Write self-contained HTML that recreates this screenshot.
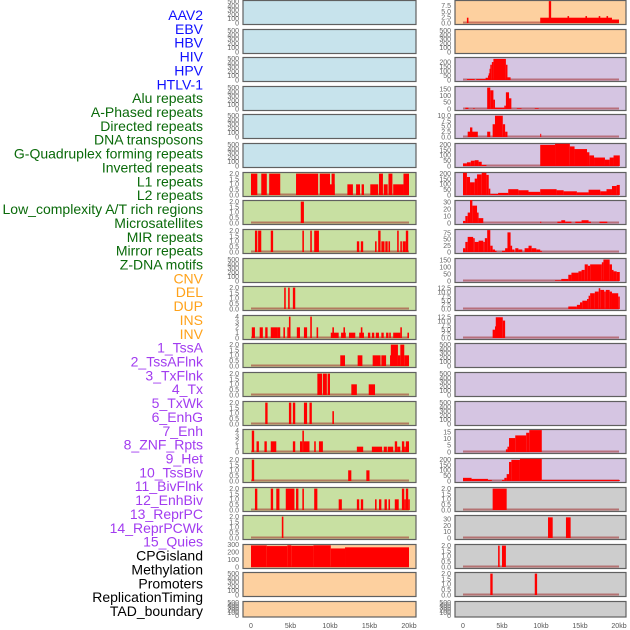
<!DOCTYPE html>
<html><head><meta charset="utf-8">
<style>
html,body{margin:0;padding:0;background:#fff;}
svg{display:block;font-family:"Liberation Sans",sans-serif;}
</style></head>
<body>
<svg id="chart" width="630" height="630" viewBox="0 0 630 630" xmlns="http://www.w3.org/2000/svg">
<g id="labels"></g>
<g id="panels"></g>
<g id="xaxes"></g>
</svg>
<script>
// ---- labels ----
const labelNames = ["AAV2","EBV","HBV","HIV","HPV","HTLV-1","Alu repeats","A-Phased repeats","Directed repeats","DNA transposons","G-Quadruplex forming repeats","Inverted repeats","L1 repeats","L2 repeats","Low_complexity A/T rich regions","Microsatellites","MIR repeats","Mirror repeats","Z-DNA motifs","CNV","DEL","DUP","INS","INV","1_TssA","2_TssAFlnk","3_TxFlnk","4_Tx","5_TxWk","6_EnhG","7_Enh","8_ZNF_Rpts","9_Het","10_TssBiv","11_BivFlnk","12_EnhBiv","13_ReprPC","14_ReprPCWk","15_Quies","CPGisland","Methylation","Promoters","ReplicationTiming","TAD_boundary"];
const labelGroups = [6,13,5,15,5];
const groupColors = ["#1010ff","#0a6a0a","#ffa21a","#a23cf0","#000000"];

// ---- x axis ----
const xTicksKb = [0,5,10,15,20];
const xTickLabels = ["0","5kb","10kb","15kb","20kb"];

// ---- tick sets ----
const tEmpty = ["0","100","200","300","400","500"], tEmptyV=[0,100,200,300,400,500];
const t2 = ["0.0","0.5","1.0","1.5","2.0"], t2V=[0,0.5,1,1.5,2];
const t4 = ["0","1","2","3","4"], t4V=[0,1,2,3,4];

// ---- left column data: [startKb, endKb, value] ----
const L6 = [[0,0.8,2],[1.3,2.0,2],[2.3,3.7,2],[5.7,8.5,2],[8.7,10.0,2],[10.0,10.6,1],[10.2,10.6,2],[12.2,12.9,1],[13.3,13.8,1],[14.0,14.3,1],[15.1,16.1,1],[16.2,16.7,2],[16.8,17.3,1],[17.4,17.9,2],[18.0,19.3,1],[19.3,20,2]];
const L7 = [[6.3,6.7,2]];
const L8 = [[0.5,0.8,2],[0.9,1.3,2],[2.5,2.8,2],[6.5,6.7,2],[7.5,7.7,2],[8.0,8.6,2],[13.4,13.7,1],[13.9,14.2,1],[15.7,15.9,1],[16.1,16.4,2],[16.5,16.9,1],[17.0,17.3,1],[17.4,17.6,1],[18.5,18.7,2],[18.9,19.1,1],[19.2,19.6,1],[19.6,19.9,2]];
const L10 = [[4.2,4.4,2],[4.7,4.9,2],[5.3,5.6,2]];
const L11 = [[0.1,0.5,2],[1.1,1.5,2],[1.8,2.1,2],[2.5,3.3,2],[3.3,3.7,2],[4.1,4.3,2],[4.6,4.8,2],[4.8,5.0,4],[5.8,6.2,2],[6.7,7.1,2],[7.5,7.7,4],[8.3,8.5,2],[10.1,11.1,1],[10.3,10.5,2],[11.4,12.0,1],[11.7,11.9,2],[12.4,13.2,1],[13.7,14.3,1],[13.9,14.1,2],[14.8,15.1,1],[15.3,15.6,1],[15.8,16.2,1],[16.5,16.8,1],[17.1,17.4,1],[17.5,17.7,1],[18.0,18.9,1],[18.9,19.1,2],[19.8,20.0,1]];
const L12 = [[11.3,11.9,1],[13.5,14.1,1],[15.4,16.4,1],[16.5,17.1,1],[17.6,17.7,1],[17.7,18.6,2],[18.6,18.9,1],[18.9,19.4,2],[19.4,20,1]];
const L13 = [[8.4,9.0,2],[9.1,9.6,2],[9.7,10.0,2],[12.7,13.4,1],[14.9,15.7,1]];
const L14 = [[1.8,2.1,2],[4.8,5.1,2],[5.3,5.6,2],[6.7,7.1,2],[7.4,7.7,2],[10.3,10.5,1.2]];
const L15 = [[0.1,0.4,4],[0.7,1.0,2],[1.7,2.0,2],[2.5,3.2,2],[5.3,5.6,2],[6.2,6.5,2],[6.5,6.7,4],[6.7,7.4,2],[8.0,8.2,2],[8.6,9.1,2],[13.4,14.2,1],[15.3,16.6,1],[16.8,17.2,1],[17.3,18.0,1],[18.2,18.5,2],[18.5,18.9,1],[19.1,19.4,2],[19.4,19.6,1],[19.6,20,2]];
const L16 = [[0.1,0.4,2],[12.3,12.7,1],[14.6,15.0,1]];
const L17 = [[0.5,0.8,2],[2.5,2.8,2],[3.2,3.6,2],[4.4,5.5,2],[5.7,6.0,2],[6.5,6.7,2],[8.0,8.4,2],[11.1,11.5,1],[13.4,13.7,1],[13.9,14.2,1],[15.7,15.9,1],[16.2,16.5,1],[16.9,17.2,1],[17.4,17.6,1],[18.2,18.7,1],[19.1,19.4,2],[19.4,19.6,1],[19.6,19.9,2],[19.9,20.1,1]];
const L18 = [[3.9,4.1,2]];
const L19 = [[0,2,290],[2,4.6,282],[4.6,5.1,292],[5.1,7.9,285],[7.9,10.1,292],[10.1,11.9,250],[11.9,20,265]];

// ---- right column data ----
const R0 = [[0.5,0.7,2.3],[9.9,19.1,2.3],[19.1,20,1.5],[11.0,11.3,9.5],[13.4,13.6,3],[15.7,15.9,3],[17.4,17.6,3],[18.4,18.6,3]];
const R2 = [[0.5,1.5,10],[1.7,2.9,10],[2.9,3.2,25],[3.2,3.3,50],[3.3,3.4,75],[3.4,3.5,125],[3.5,3.7,170],[3.7,3.9,200],[3.9,5.5,235],[5.5,5.7,170],[5.7,6.1,30]];
const R3 = [[0.3,0.7,10],[1.3,1.5,5],[3.1,3.5,160],[3.5,3.9,140],[3.9,4.1,70],[4.1,5.3,10],[5.3,5.5,25],[5.5,5.9,125],[5.9,6.2,80],[6.9,7.5,5],[9.2,9.7,5]];
const R4 = [[0.6,1.1,2.5],[0.9,1.2,4.5],[1.1,1.9,2.5],[3.1,3.5,2.5],[3.8,4.1,6],[4.1,5.1,10],[5.1,5.4,6],[5.4,5.7,2.5],[9.9,10.0,1.5]];
const R5 = [[0,0.5,25],[0.5,1.0,35],[1.0,1.5,50],[1.5,2.0,55],[2.0,2.4,40],[2.4,3.0,10],[9.9,11.8,200],[11.8,13.7,210],[13.7,14.3,185],[14.3,15.9,160],[15.9,16.2,130],[16.2,16.8,100],[16.8,18.2,80],[18.2,18.8,60],[18.8,19.3,80],[19.3,20.1,100]];
const R6 = [[0,0.5,210],[0.5,0.9,170],[0.9,1.5,120],[1.5,1.8,155],[1.8,2.4,195],[2.4,3.0,210],[3.0,3.3,190],[3.3,3.5,60],[3.5,4.5,10],[4.5,5.8,20],[5.8,7.1,55],[7.1,8.4,45],[8.4,9.9,30],[9.9,12.0,55],[12.0,12.9,45],[12.9,14.6,35],[14.6,16.1,25],[16.1,17.6,50],[17.6,18.4,35],[18.4,19.1,55],[19.1,19.7,85],[19.7,20.1,95]];
const R7 = [[0,0.3,3],[0.3,0.6,10],[0.6,0.9,15],[0.9,1.2,33],[1.2,1.8,25],[1.8,2.0,15],[2.0,2.6,7],[9.9,10.0,2],[12.1,12.6,2],[12.6,13.1,4],[13.1,13.9,2],[14.4,15.2,2],[15.2,16.1,4],[16.1,16.4,2],[17.5,18.5,2]];
const R8 = [[0,0.3,15],[0.3,0.6,40],[0.6,1.3,60],[1.3,1.5,55],[1.5,2.0,40],[2.0,2.6,45],[2.6,2.8,40],[2.8,3.1,55],[3.1,3.5,87],[3.5,3.8,25],[3.8,4.1,10],[4.1,4.3,5],[5.0,5.4,5],[5.4,5.7,15],[5.7,6.1,78],[6.1,6.3,25],[6.3,6.6,10],[6.7,7.1,15],[7.1,7.6,10],[7.9,8.4,15],[8.4,8.8,25],[8.8,9.4,15],[9.4,9.9,10],[9.9,10.1,5]];
const R9 = [[11.8,12.6,5],[12.6,13.5,15],[13.5,13.9,45],[13.9,14.8,60],[14.8,15.2,70],[15.2,15.6,80],[15.6,16.0,120],[16.0,16.3,110],[16.3,17.8,120],[17.8,18.0,135],[18.0,18.8,155],[18.8,19.1,120],[19.1,19.3,80],[19.3,19.7,70],[19.7,20.1,65]];
const R10 = [[13.5,14.6,1.5],[14.6,15.0,2.5],[15.0,15.3,4],[15.3,15.9,5],[15.9,16.1,6],[16.1,16.3,8],[16.3,16.9,9.5],[16.9,17.4,10.5],[17.4,17.6,12.5],[17.6,18.1,11.5],[18.1,18.3,10.5],[18.3,18.8,11.5],[18.8,19.1,10.5],[19.1,19.9,9.5],[19.9,20.1,7.5]];
const R11 = [[3.8,4.1,5],[4.1,4.2,7],[4.2,5.1,12.5],[5.1,5.4,10.5]];
const R15 = [[5.5,5.7,2],[5.7,5.9,4],[5.9,6.7,10.5],[6.7,8.1,12.5],[8.1,8.5,14.5],[8.5,10.1,16.5]];
const R16 = [[0,1.1,30],[1.1,3.2,20],[3.2,3.7,10],[5.0,5.3,10],[5.3,5.6,30],[5.6,5.9,65],[5.9,6.2,180],[6.2,7.3,200],[7.3,10.1,210],[10.1,20.1,10]];
const R17 = [[3.8,5.6,2]];
const R18 = [[10.9,11.5,33],[13.2,13.8,33]];
const R19 = [[4.5,4.7,2],[5.0,5.5,2]];
const R20 = [[3.5,3.8,2],[9.2,9.5,2]];

const BLUE="#c7e3ec", GREEN="#c8e0a2", ORANGE="#fdd09f", PURPLE="#d5c5e2", GRAY="#cdcdcd";
// left column panels: [segments, ymax, tickLabels, tickValues, bg]
const leftPanels = [
 [null,520,tEmpty,tEmptyV,BLUE],[null,520,tEmpty,tEmptyV,BLUE],[null,520,tEmpty,tEmptyV,BLUE],
 [null,520,tEmpty,tEmptyV,BLUE],[null,520,tEmpty,tEmptyV,BLUE],[null,520,tEmpty,tEmptyV,BLUE],
 [L6,2.05,t2,t2V,GREEN],[L7,2.05,t2,t2V,GREEN],[L8,2.05,t2,t2V,GREEN],[null,520,tEmpty,tEmptyV,GREEN],
 [L10,2.05,t2,t2V,GREEN],[L11,4.1,t4,t4V,GREEN],[L12,2.05,t2,t2V,GREEN],[L13,2.05,t2,t2V,GREEN],
 [L14,2.05,t2,t2V,GREEN],[L15,4.1,t4,t4V,GREEN],[L16,2.05,t2,t2V,GREEN],[L17,2.05,t2,t2V,GREEN],
 [L18,2.05,t2,t2V,GREEN],[L19,295,["0","100","200","300"],[0,100,200,300],ORANGE],
 [null,520,tEmpty,tEmptyV,ORANGE],[null,520,tEmpty,tEmptyV,ORANGE]
];
const rightPanels = [
 [R0,9.5,["0.0","2.5","5.0","7.5"],[0,2.5,5,7.5],ORANGE],[null,520,tEmpty,tEmptyV,ORANGE],
 [R2,244,["0","50","100","150","200"],[0,50,100,150,200],PURPLE],
 [R3,164,["0","50","100","150"],[0,50,100,150],PURPLE],
 [R4,10.3,["0.0","2.5","5.0","7.5","10.0"],[0,2.5,5,7.5,10],PURPLE],
 [R5,207,["0","50","100","150","200"],[0,50,100,150,200],PURPLE],
 [R6,207,["0","50","100","150","200"],[0,50,100,150,200],PURPLE],
 [R7,31.5,["0","10","20","30"],[0,10,20,30],PURPLE],
 [R8,87,["0","25","50","75"],[0,25,50,75],PURPLE],
 [R9,158,["0","50","100","150"],[0,50,100,150],PURPLE],
 [R10,13.2,["0.0","2.5","5.0","7.5","10.0","12.5"],[0,2.5,5,7.5,10,12.5],PURPLE],
 [R11,13.2,["0.0","2.5","5.0","7.5","10.0","12.5"],[0,2.5,5,7.5,10,12.5],PURPLE],
 [null,520,tEmpty,tEmptyV,PURPLE],[null,520,tEmpty,tEmptyV,PURPLE],[null,520,tEmpty,tEmptyV,PURPLE],
 [R15,16.5,["0","5","10","15"],[0,5,10,15],PURPLE],
 [R16,207,["0","50","100","150","200"],[0,50,100,150,200],PURPLE],
 [R17,2.05,t2,t2V,GRAY],[R18,35,["0","10","20","30"],[0,10,20,30],GRAY],
 [R19,2.05,t2,t2V,GRAY],[R20,2.05,t2,t2V,GRAY],[null,520,tEmpty,tEmptyV,GRAY]
];

const NS="http://www.w3.org/2000/svg";
function mk(tag, attrs, parent){const e=document.createElementNS(NS,tag);for(const k in attrs)e.setAttribute(k,attrs[k]);parent.appendChild(e);return e;}

// labels
const lg=document.getElementById('labels');
let gi=0, cnt=0;
labelNames.forEach((name,i)=>{
  if(cnt>=labelGroups[gi]){gi++;cnt=0;}
  cnt++;
  const t=mk('text',{x:203,y:(15+i*13.86+5).toFixed(1),'text-anchor':'end','font-size':'14',fill:groupColors[gi]},lg);
  
  
  t.textContent=name;
});

const pg=document.getElementById('panels');
function rowTop(i){return Math.round(i*28.62);}
function rowBottom(i){return i===21?617:rowTop(i)+24.5;}

function drawColumn(panels, px0, px1, x0, pxPerKb, tickX, side){
  const xs = kb => x0 + kb*pxPerKb;
  panels.forEach((p,i)=>{
    const [segs,ymax,tl,tv,bg]=p;
    const top=rowTop(i)+0.5, bot=rowBottom(i);
    const g=mk('g',{},pg);
    
    
    const r=mk('rect',{x:px0,y:top,width:px1-px0,height:bot-top,fill:bg,stroke:'#606060','stroke-width':1.2},g);
    
    
    const yz=bot-1.5, yt=top+0.6;
    const ys = v => yz - (v/ymax)*(yz-yt);
    tl.forEach((lab,k)=>{
      const t=mk('text',{x:tickX,y:(ys(tv[k])+2.3).toFixed(1),'text-anchor':'end','font-size':'7',fill:'#666'},g);
      
      
      t.textContent=lab;
    });
    if(segs){
      const bl=mk('line',{x1:xs(0),x2:xs(20),y1:yz-0.5,y2:yz-0.5,stroke:'#a02828','stroke-opacity':0.55,'stroke-width':2},g);
      
      
      segs.forEach(s=>{
        const y=ys(s[2]);
        const b=mk('rect',{x:xs(s[0]).toFixed(2),y:y.toFixed(2),width:Math.max(1,(s[1]-s[0])*pxPerKb).toFixed(2),height:(yz-y).toFixed(2),fill:'#ff0000'},g);
        
        
      });
    }
  });
  const xg=document.getElementById('xaxes');
  xTicksKb.forEach((kb,k)=>{
    const t=mk('text',{x:xs(kb),y:628,'text-anchor':'middle','font-size':'7',fill:'#555'},xg);
    
    
    t.textContent=xTickLabels[k];
  });
}
drawColumn(leftPanels,243,416,251,7.9,239,'left');
drawColumn(rightPanels,455,626,463,7.8,451,'right');
</script>
</body></html>
